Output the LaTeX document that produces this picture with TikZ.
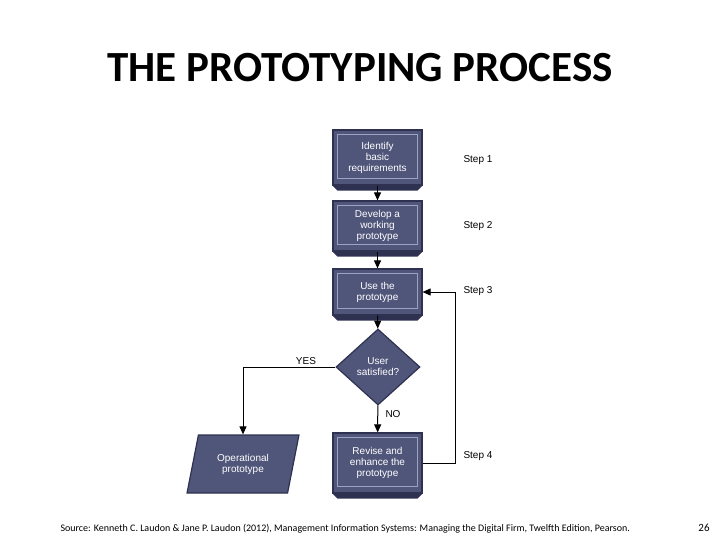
\documentclass[tikz,border=0pt]{standalone}
\usepackage{fontspec}
\setmainfont{Carlito}
\newfontfamily\arialf{Liberation Sans}
\usetikzlibrary{shapes.geometric,arrows.meta}
\definecolor{boxf}{HTML}{50557A}
\definecolor{boxd}{HTML}{2E3250}
\definecolor{boxl}{HTML}{9DA2C4}
\tikzset{
 blk/.style={draw=boxd,line width=1.2pt,fill=boxf,minimum width=89pt,text=white,font=\arialf\fontsize{10}{11}\selectfont,align=center,inner sep=0pt},
 lbl/.style={font=\arialf\fontsize{10}{11}\selectfont,anchor=west},
 ar/.style={line width=1pt,-{Triangle[length=8pt,width=7pt]}}
}
\begin{document}
\begin{tikzpicture}[x=1pt,y=-1pt]
\useasboundingbox (0,0) rectangle (720,540);
\node[font=\fontsize{43}{46}\selectfont\bfseries] (title) at (360,68) {THE PROTOTYPING PROCESS};
\node[blk,minimum height=55pt] (b1) at (377.5,157.5) {Identify\\basic\\requirements};
\node[blk,minimum height=50pt] (b2) at (377.5,226) {Develop a\\working\\prototype};
\node[blk,minimum height=46pt] (b3) at (377.5,292) {Use the\\prototype};
\node[blk,diamond,minimum width=84pt,minimum height=76pt] (d) at (378,367) {User\\satisfied?};
\node[blk,minimum height=60pt] (b4) at (377.5,463) {Revise and\\enhance the\\prototype};
\node[blk,trapezium,trapezium left angle=72,trapezium right angle=108,minimum width=112pt,minimum height=58pt,trapezium stretches=true] (p) at (243,464) {Operational\\prototype};
\foreach \n in {b1,b2,b3,b4}{
 \draw[boxl,line width=0.5pt] ([shift={(5pt,-5pt)}]\n.north west) rectangle ([shift={(-5pt,7pt)}]\n.south east);
 \fill[boxd] ([shift={(0.6pt,-0.6pt)}]\n.south west) -- ([shift={(5pt,-5pt)}]\n.south west) -- ([shift={(-5pt,-5pt)}]\n.south east) -- ([shift={(-0.6pt,-0.6pt)}]\n.south east) -- cycle;
}
\node[lbl] (s1) at (460,160) {Step 1};
\node[lbl] (s2) at (460,226) {Step 2};
\node[lbl] (s3) at (460,291) {Step 3};
\node[lbl] (s4) at (460,456) {Step 4};
\node[lbl,anchor=center] (yes) at (306,361) {YES};
\node[lbl,anchor=center] (no) at (393,414) {NO};
\draw[ar] (b1) -- (b2);
\draw[ar] (b2) -- (b3);
\draw[ar] (b3) -- (d);
\draw[ar] (d) -- (b4);
\draw[ar] (d.west) -| (p.north);
\coordinate (c) at (455,463);
\draw[ar] (b4.east) -- (c) -- (c |- b3.east) -- (b3.east);
\node[font=\fontsize{10}{11}\selectfont,anchor=west] (src) at (57,529) {Source: Kenneth C. Laudon \& Jane P. Laudon (2012), Management Information Systems: Managing the Digital Firm, Twelfth Edition, Pearson.};
\node[font=\fontsize{11}{12}\selectfont] (pg) at (704,528) {26};
\end{tikzpicture}
\end{document}
